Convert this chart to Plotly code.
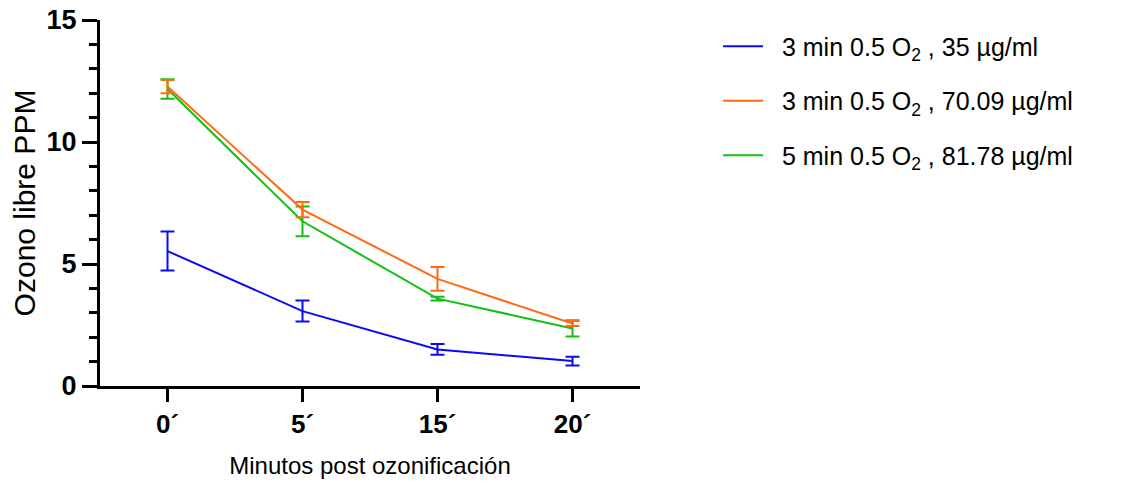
import plotly.graph_objects as go

categories = ["0´", "5´", "15´", "20´"]
series_names = [
    "\u00a0\u00a03 min 0.5 O<sub>2</sub> , 35 µg/ml",
    "\u00a0\u00a03 min 0.5 O<sub>2</sub> , 70.09 µg/ml",
    "\u00a0\u00a05 min 0.5 O<sub>2</sub> , 81.78 µg/ml",
]
blue_vals = [5.53, 3.07, 1.50, 1.02]
blue_err = [0.80, 0.43, 0.22, 0.18]
orange_vals = [12.27, 7.23, 4.39, 2.56]
orange_err = [0.27, 0.31, 0.49, 0.10]
green_vals = [12.17, 6.75, 3.58, 2.36]
green_err = [0.40, 0.61, 0.08, 0.33]
colors = ["#0a0af5", "#ff6a13", "#12c012"]

FONT = "Liberation Sans, Arial, sans-serif"

fig = go.Figure()
draw_order = [(0, blue_vals, blue_err), (2, green_vals, green_err), (1, orange_vals, orange_err)]
for idx, vals, err in draw_order:
    fig.add_trace(go.Scatter(
        x=categories, y=vals, mode="lines", name=series_names[idx],
        legendrank=idx + 1, legendgroup="g%d" % idx,
        line=dict(color=colors[idx], width=2),
        error_y=dict(type="data", array=err, visible=True, color=colors[idx], thickness=2, width=7),
    ))

# page body has an 8px margin, so offsets compensate
fig.update_layout(
    width=1137, height=483,
    margin=dict(l=92, r=505, t=12, b=105, autoexpand=False),
    paper_bgcolor="white", plot_bgcolor="white",
    font=dict(family=FONT, color="black"),
    showlegend=True,
    legend=dict(xref="container", yref="container", x=0.6245, y=0.968,
                xanchor="left", yanchor="top",
                font=dict(size=25, color="black", family=FONT), tracegroupgap=19,
                itemwidth=40, bgcolor="rgba(0,0,0,0)"),
)
fig.update_xaxes(
    type="category", range=[-0.5, 3.5], automargin=False,
    showline=True, linecolor="black", linewidth=3,
    ticks="outside", ticklen=13, tickwidth=3, tickcolor="black",
    tickfont=dict(size=26, color="black", family=FONT, weight="bold"),
    showgrid=False, zeroline=False, ticklabeloverflow="allow",
    title=dict(text="Minutos post ozonificación", font=dict(size=24, family=FONT), standoff=19),
)
fig.update_yaxes(
    range=[0, 15], tickvals=[0, 5, 10, 15], automargin=False,
    showline=True, linecolor="black", linewidth=3,
    ticks="outside", ticklen=15, tickwidth=3, tickcolor="black",
    minor=dict(dtick=1, ticks="outside", ticklen=8, tickwidth=3, tickcolor="black", showgrid=False),
    tickfont=dict(size=27, color="black", family=FONT, weight="bold"),
    showgrid=False, zeroline=False, ticklabeloverflow="allow",
    title=dict(text="Ozono libre PPM", font=dict(size=30, family=FONT), standoff=4),
)

fig.write_html("out.html")
